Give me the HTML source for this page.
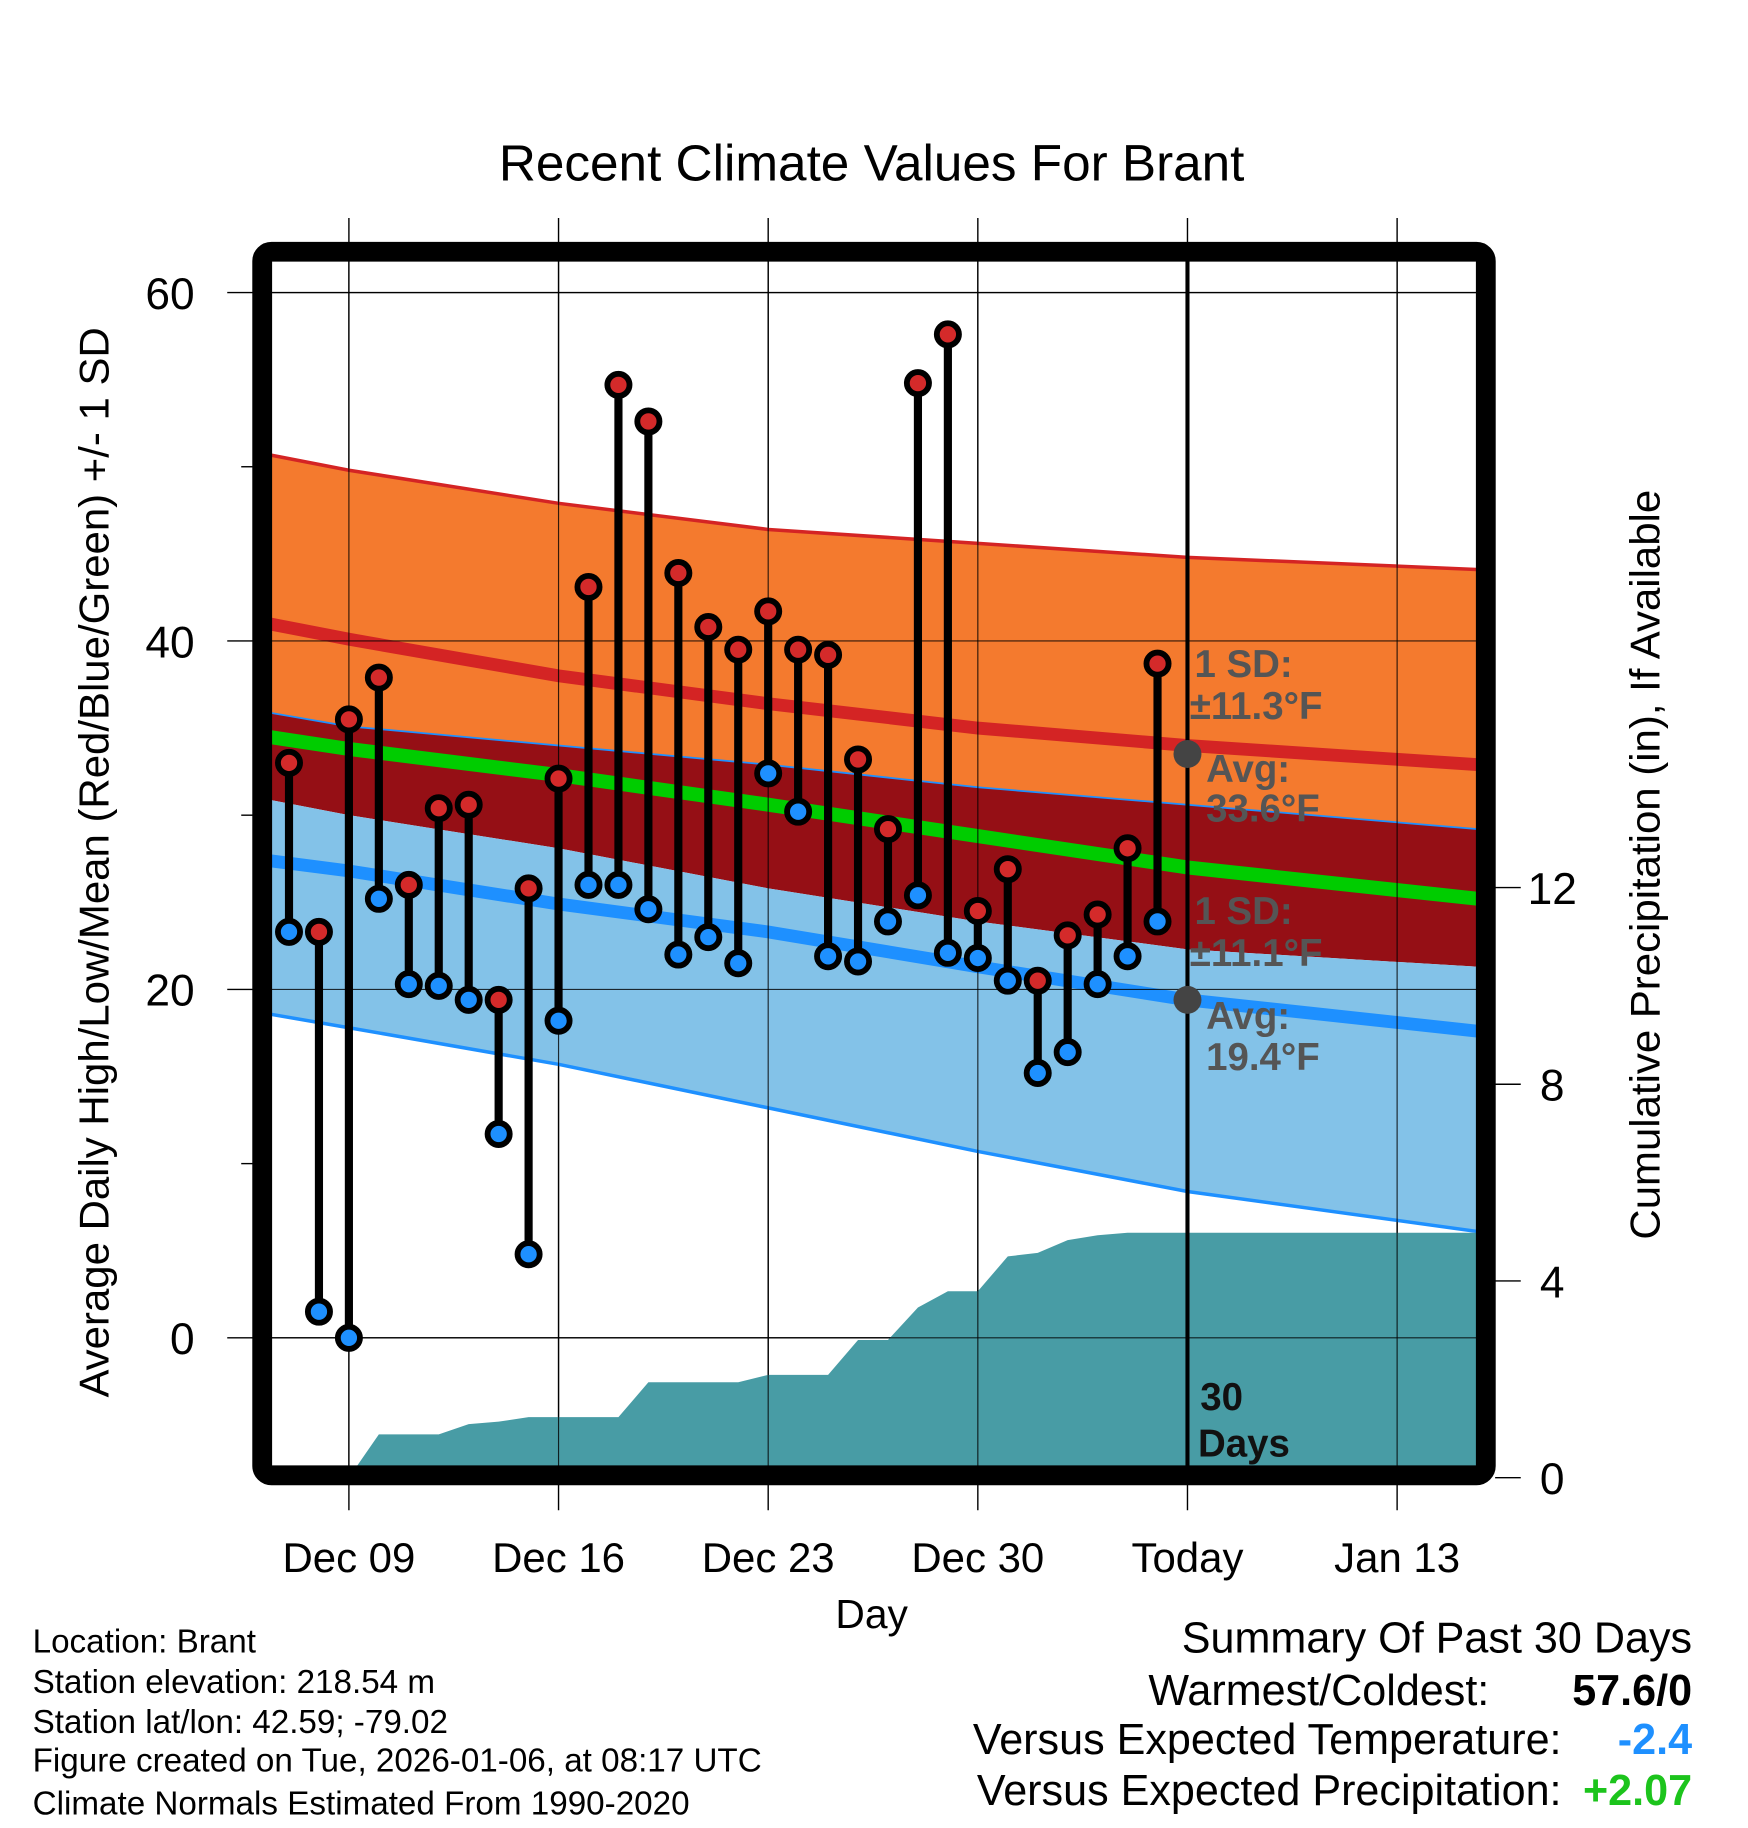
<!DOCTYPE html>
<html><head><meta charset="utf-8"><style>
html,body{margin:0;padding:0;background:#fff;}
svg{display:block;font-family:"Liberation Sans",Arial,sans-serif;}
</style></head><body>
<svg id="chart" width="1748" height="1828" viewBox="0 0 1500 1568.6" xmlns="http://www.w3.org/2000/svg">
<defs><clipPath id="plotclip"><rect x="232" y="224" width="1035" height="1035"/></clipPath></defs>
<text x="748" y="155" font-size="44" text-anchor="middle">Recent Climate Values For Brant</text>
<g id="grid"></g>
<g id="bands" clip-path="url(#plotclip)"></g>
<g id="precip" clip-path="url(#plotclip)"></g>
<g id="gridover" clip-path="url(#plotclip)"></g>
<line x1="1019" y1="216" x2="1019" y2="1266" stroke="#000" stroke-width="3.5"/>
<g id="marks"></g>
<g font-weight="bold" font-size="33" fill="#555">
<text x="1025" y="581">1 SD:</text><text x="1021" y="617">±11.3°F</text>
<circle cx="1019" cy="647" r="12" fill="#444"/>
<text x="1035" y="671">Avg:</text><text x="1035" y="705">33.6°F</text>
<text x="1025" y="793">1 SD:</text><text x="1021" y="829">±11.1°F</text>
<circle cx="1019" cy="858" r="12" fill="#444"/>
<text x="1035" y="883">Avg:</text><text x="1035" y="918">19.4°F</text>
<text x="1030" y="1210" fill="#111">30</text><text x="1028" y="1250" fill="#111">Days</text>
</g>
<rect x="225" y="216" width="1050" height="1050" rx="8" fill="none" stroke="#000" stroke-width="17"/>
<g id="axes" font-size="38"></g>
<text transform="translate(93,740) rotate(-90)" font-size="36" text-anchor="middle">Average Daily High/Low/Mean (Red/Blue/Green) +/- 1 SD</text>
<text transform="translate(1424,742) rotate(-90)" font-size="36" text-anchor="middle">Cumulative Precipitation (in), If Available</text>
<text x="748" y="1397" font-size="35" text-anchor="middle">Day</text>
<g font-size="28.5">
<text x="28" y="1418">Location: Brant</text>
<text x="28" y="1453">Station elevation: 218.54 m</text>
<text x="28" y="1487">Station lat/lon: 42.59; -79.02</text>
<text x="28" y="1520">Figure created on Tue, 2026-01-06, at 08:17 UTC</text>
<text x="28" y="1557">Climate Normals Estimated From 1990-2020</text>
</g>
<g font-size="37" text-anchor="end">
<text x="1452" y="1418">Summary Of Past 30 Days</text>
<text x="1278" y="1463">Warmest/Coldest:</text>
<text x="1452" y="1463" font-weight="bold">57.6/0</text>
<text x="1340" y="1505">Versus Expected Temperature:</text>
<text x="1452" y="1505" font-weight="bold" fill="#1e90ff">-2.4</text>
<text x="1340" y="1549">Versus Expected Precipitation:</text>
<text x="1452" y="1549" font-weight="bold" fill="#1cc41c">+2.07</text>
</g>
</svg>
<script>
// day offsets relative to today (Jan 06)
const dayOffsets = [-30,-29,-28,-27,-26,-25,-24,-23,-22,-21,-20,-19,-18,-17,-16,-15,-14,-13,-12,-11,-10,-9,-8,-7,-6,-5,-4,-3,-2,-1];
const highs = [33.0,23.3,35.5,37.9,26.0,30.4,30.6,19.4,25.8,32.1,43.1,54.7,52.6,43.9,40.8,39.5,41.7,39.5,39.2,33.2,29.2,54.8,57.6,24.5,26.9,20.5,23.1,24.3,28.1,38.7];
const lows  = [23.3,1.5,0.0,25.2,20.3,20.2,19.4,11.7,4.8,18.2,26.0,26.0,24.6,22.0,23.0,21.5,32.4,30.2,21.9,21.6,23.9,25.4,22.1,21.8,20.5,15.2,16.4,20.3,21.9,23.9];
const precipDays = [-28,-27,-26,-25,-24,-23,-22,-21,-20,-19,-18,-17,-16,-15,-14,-13,-12,-11,-10,-9,-8,-7,-6,-5,-4,-3,-2,-1,0,9.7];
const precipCum  = [0,0.88,0.88,0.88,1.09,1.14,1.23,1.23,1.23,1.23,1.94,1.94,1.94,1.94,2.09,2.09,2.09,2.80,2.80,3.46,3.79,3.79,4.50,4.57,4.83,4.93,4.98,4.98,4.98,4.98];
const normDays = [-30.7,-28,-21,-14,-7,0,9.7];
const highPlusSD = [50.7,49.8,47.9,46.4,45.6,44.8,44.1];
const highNorm   = [41.0,40.1,38.0,36.4,35.0,34.0,32.9];
const highMinusSD= [35.9,35.1,34.0,32.9,31.6,30.6,29.2];
const meanNorm   = [34.5,33.8,32.3,30.6,28.8,27.0,25.2];
const lowPlusSD  = [30.9,30.0,28.1,25.8,23.9,22.3,21.3];
const lowNorm    = [27.4,26.8,24.9,23.3,21.3,19.4,17.6];
const lowMinusSD = [18.6,17.8,15.7,13.2,10.7,8.4,6.1];
const yTicks = [0,20,40,60];
const y2Ticks = [0,4,8,12];
const xTickDays = [-28,-21,-14,-7,0,7];
const xTickLabels = ["Dec 09","Dec 16","Dec 23","Dec 30","Today","Jan 13"];

const NS="http://www.w3.org/2000/svg";
const X = d => 1019 + d*25.7;
const Y = t => 1148 - t*14.95;
const P = p => 1268 - p*42.2;
function mk(tag, attrs, parent){const e=document.createElementNS(NS,tag);for(const k in attrs)e.setAttribute(k,attrs[k]);parent.appendChild(e);return e;}
const grid=document.getElementById('grid'), bands=document.getElementById('bands'), pg=document.getElementById('precip'), go=document.getElementById('gridover'), marks=document.getElementById('marks'), axes=document.getElementById('axes');

function pts(arr){return normDays.map((d,i)=>X(d)+','+Y(arr[i]));}
function band(top,bot,fill,name){
  const p=mk('polygon',{points:pts(top).concat(pts(bot).reverse()).join(' '),fill:fill},bands);
  
  
}
function line(arr,color,w,name){
  const p=mk('polyline',{points:pts(arr).join(' '),fill:'none',stroke:color,'stroke-width':w},bands);
  
  
}
band(highPlusSD,highMinusSD,'#f47a2e','high-sd-band');
band(highMinusSD,lowPlusSD,'#950f15','overlap-band');
band(lowPlusSD,lowMinusSD,'#83c2e8','low-sd-band');
line(highPlusSD,'#d42424',3,'high-plus-sd-line');
line(highMinusSD,'#1e90ff',1.5,'high-minus-sd-line');
line(lowMinusSD,'#1e90ff',3,'low-minus-sd-line');
line(highNorm,'#d42424',11,'high-normal-line');
line(meanNorm,'#00cc00',12,'mean-normal-line');
line(lowNorm,'#1e90ff',11,'low-normal-line');

let pp=[X(precipDays[0])+','+P(0)];
precipDays.forEach((d,i)=>pp.push(X(d)+','+P(precipCum[i])));
pp.push(X(precipDays[precipDays.length-1])+','+P(0));
const pa=mk('polygon',{points:pp.join(' '),fill:'#489ca5'},pg);



yTicks.forEach(t=>{
  const l=mk('line',{x1:195,x2:1267,y1:Y(t),y2:Y(t),stroke:'#000','stroke-width':1.2},grid);
  
  
  const tx=mk('text',{x:167,y:Y(t)+14,'text-anchor':'end'},axes); tx.textContent=t;
  
  
});
[10,30,50].forEach(t=>{
  const l=mk('line',{x1:207,x2:220,y1:Y(t),y2:Y(t),stroke:'#000','stroke-width':1.2},grid);
  
  
});
xTickDays.forEach((d,i)=>{
  const l=mk('line',{x1:X(d),x2:X(d),y1:187,y2:1296,stroke:'#000','stroke-width':1.2},grid);
  
  
  const tx=mk('text',{x:X(d),y:1349,'text-anchor':'middle','font-size':36},axes); tx.textContent=xTickLabels[i];
  
  
});
yTicks.forEach(t=>{const l=mk('line',{x1:232,x2:1267,y1:Y(t),y2:Y(t),stroke:'#000','stroke-width':1,'stroke-opacity':0.8},go);
  });
xTickDays.forEach(d=>{const l=mk('line',{x1:X(d),x2:X(d),y1:224,y2:1259,stroke:'#000','stroke-width':1,'stroke-opacity':0.8},go);
  });
y2Ticks.forEach(p=>{
  const l=mk('line',{x1:1283,x2:1305,y1:P(p),y2:P(p),stroke:'#000','stroke-width':1.2},axes);
  
  
  const tx=mk('text',{x:1332,y:P(p)+14,'text-anchor':'middle'},axes); tx.textContent=p;
  
  
});

dayOffsets.forEach((d,i)=>{
  const x=X(d);
  const s=mk('line',{x1:x,x2:x,y1:Y(highs[i]),y2:Y(lows[i]),stroke:'#000','stroke-width':7},marks);
  
  
});
dayOffsets.forEach((d,i)=>{
  const x=X(d);
  const lo=mk('circle',{cx:x,cy:Y(lows[i]),r:9.5,fill:'#1e90ff',stroke:'#000','stroke-width':5},marks);
  
  
  const hi=mk('circle',{cx:x,cy:Y(highs[i]),r:9.5,fill:'#d42a2a',stroke:'#000','stroke-width':5},marks);
  
  
});
</script>
</body></html>
